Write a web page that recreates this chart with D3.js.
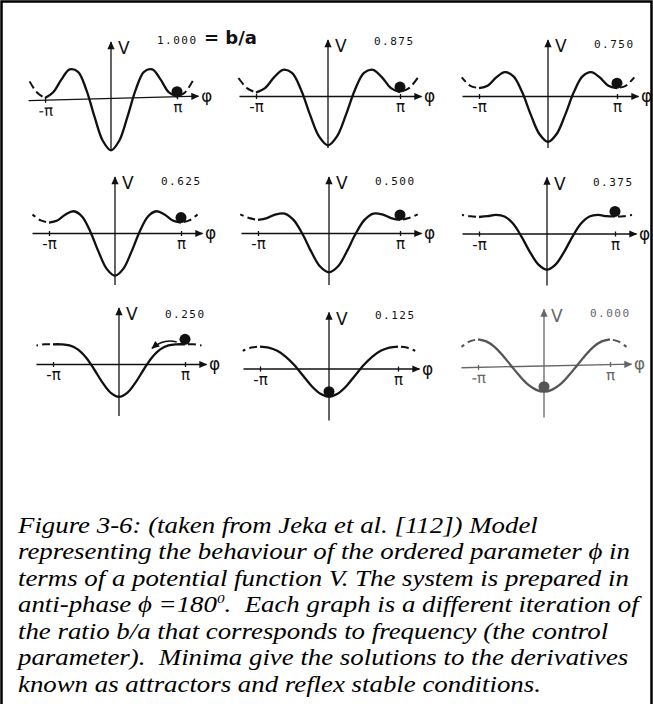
<!DOCTYPE html>
<html>
<head>
<meta charset="utf-8">
<script src="https://cdn.jsdelivr.net/npm/d3@7"></script>
<style>
  body { margin: 0; background: #fff; }
  svg { display: block; }
</style>
</head>
<body>
<script>
// b/a ratio shown on each small graph
var ratioLabels = ["1.000", "0.875", "0.750", "0.625", "0.500", "0.375", "0.250", "0.125", "0.000"];

// phi sample points, in units of pi
var phiSteps = [-1.25, -1.125, -1, -0.875, -0.75, -0.625, -0.5, -0.375, -0.25, -0.125, 0,
                0.125, 0.25, 0.375, 0.5, 0.625, 0.75, 0.875, 1, 1.125, 1.25];

// potential V at the phi samples
var v1000 = [0.71, 0.22, 0, 0.22, 0.71, 1.09, 1.00, 0.32, -0.71, -1.63, -2.00, -1.63, -0.71, 0.32, 1.00, 1.09, 0.71, 0.22, 0.05, 0.22, 0.71];
var v0875 = [0.71, 0.30, 0.13, 0.30, 0.71, 1.00, 0.88, 0.24, -0.71, -1.54, -1.88, -1.54, -0.71, 0.24, 0.88, 1.00, 0.71, 0.30, 0.15, 0.30, 0.71];
var v0750 = [0.71, 0.39, 0.30, 0.39, 0.71, 0.91, 0.75, 0.15, -0.71, -1.45, -1.75, -1.45, -0.71, 0.15, 0.75, 0.91, 0.71, 0.39, 0.30, 0.39, 0.71];
var v0625 = [0.71, 0.48, 0.40, 0.48, 0.71, 0.83, 0.63, 0.06, -0.71, -1.37, -1.63, -1.37, -0.71, 0.06, 0.63, 0.83, 0.71, 0.48, 0.40, 0.48, 0.71];
var v0500 = [0.71, 0.57, 0.50, 0.57, 0.71, 0.74, 0.50, -0.03, -0.71, -1.28, -1.50, -1.28, -0.71, -0.03, 0.50, 0.74, 0.71, 0.57, 0.50, 0.57, 0.71];
var v0375 = [0.71, 0.66, 0.63, 0.66, 0.71, 0.65, 0.38, -0.12, -0.71, -1.19, -1.38, -1.19, -0.71, -0.12, 0.38, 0.65, 0.71, 0.66, 0.65, 0.66, 0.71];
var v0250 = [0.71, 0.75, 0.75, 0.75, 0.71, 0.56, 0.25, -0.21, -0.71, -1.10, -1.25, -1.10, -0.71, -0.21, 0.25, 0.56, 0.71, 0.75, 0.75, 0.75, 0.71];
var v0125 = [0.71, 0.84, 0.88, 0.84, 0.71, 0.47, 0.13, -0.29, -0.71, -1.01, -1.13, -1.01, -0.71, -0.29, 0.13, 0.47, 0.71, 0.84, 0.88, 0.84, 0.71];
var v0000 = [0.71, 0.92, 1.00, 0.92, 0.71, 0.38, 0.00, -0.38, -0.71, -0.92, -1.00, -0.92, -0.71, -0.38, 0.00, 0.38, 0.71, 0.92, 1.00, 0.92, 0.71];

var potentials = [v1000, v0875, v0750, v0625, v0500, v0375, v0250, v0125, v0000];

// where the ball rests (phi in units of pi)
var ballPhi = [1, 1, 1, 1, 1, 1, 1, 0, 0];

// the curved "rolling" arrow on the b/a = 0.250 graph: [phi, V]
var rollArrow = [[0.875, 0.84], [0.68, 0.98], [0.5, 0.6]];

var tickLabels = ["-\u03c0", "\u03c0"];

var captionLines = [
  "Figure 3-6: (taken from Jeka et al. [112]) Model",
  "representing the behaviour of the ordered parameter \u03d5 in",
  "terms of a potential function V. The system is prepared in",
  "anti-phase \u03d5 =180|0|.  Each graph is a different iteration of",
  "the ratio b/a that corresponds to frequency (the control",
  "parameter).  Minima give the solutions to the derivatives",
  "known as attractors and reflex stable conditions."
];

// panel placement on the page
var centerX = [111, 328, 548, 115, 329, 547, 119, 329, 544];
var halfW   = [66, 72, 69, 66, 71, 68, 66, 69, 66];
var axisY   = [98, 96, 96, 233, 233, 233.5, 364, 368.5, 365.5];
var labelY  = [43.5, 44.5, 48, 184.5, 184.5, 185.5, 318, 319, 317];
var axisTilt = [-1.5, 0, 0, 0, 0, 0, 0, 0, -1.2];
var unitPx  = [26.2, 26.2, 26.2, 26.2, 26.2, 26.2, 26.2, 24.9, 26.2];

var w = 653, h = 704;

var svg = d3.select("body").append("svg")
    .attr("width", w)
    .attr("height", h);

// arrow heads
var defs = svg.append("defs");
["#111", "#666"].forEach(function(c, i) {
  defs.append("marker")
      .attr("id", "arr" + i)
      .attr("viewBox", "0 0 10 10")
      .attr("refX", 9).attr("refY", 5)
      .attr("markerUnits", "userSpaceOnUse")
      .attr("markerWidth", 10).attr("markerHeight", 8)
      .attr("orient", "auto")
      .append("path")
      .attr("d", "M0,0.5L10,5L0,9.5z")
      .attr("fill", c);
});

// frame around the figure
svg.append("path")
    .attr("d", "M1.5," + h + "V1.5H651.5V" + h)
    .attr("fill", "none")
    .attr("stroke", "#000")
    .attr("stroke-width", 2.5);

potentials.forEach(function(vals, i) {
  var cx = centerX[i], ay = axisY[i];
  var faded = (i === 8);
  var ink = faded ? "#555" : "#111";
  var axisInk = faded ? "#666" : "#111";
  var marker = faded ? "url(#arr1)" : "url(#arr0)";

  var x = d3.scaleLinear().domain([-1, 1]).range([cx - halfW[i], cx + halfW[i]]);
  var y = d3.scaleLinear().domain([0, 1]).range([ay, ay - unitPx[i]]);

  var g = svg.append("g");

  // phi axis
  var xAxisScale = x.copy().domain([-1 - 17 / halfW[i], 1 + 21 / halfW[i]])
      .range([x(-1) - 17, x(1) + 21]);
  var xAxis = d3.axisBottom(xAxisScale)
      .tickValues([-1, 1])
      .tickFormat(function(d) { return d < 0 ? tickLabels[0] : tickLabels[1]; })
      .tickSizeOuter(0)
      .tickSizeInner(3);

  var ax = g.append("g")
      .attr("transform", "rotate(" + axisTilt[i] + "," + cx + "," + ay + ") translate(0," + ay + ")")
      .call(xAxis);
  ax.select(".domain")
      .attr("stroke", axisInk)
      .attr("stroke-width", 1.3)
      .attr("marker-end", marker);
  ax.selectAll(".tick line")
      .attr("y1", -2).attr("y2", 3)
      .attr("stroke", axisInk)
      .attr("stroke-width", 1.3);
  ax.selectAll(".tick text")
      .attr("y", 16).attr("dy", 0)
      .attr("fill", axisInk)
      .style("font-family", "'DejaVu Sans', sans-serif")
      .style("font-size", "15px");

  ax.append("text")
      .attr("x", x(1) + 24)
      .attr("y", 6)
      .attr("text-anchor", "start")
      .attr("fill", axisInk)
      .style("font-family", "'DejaVu Sans', sans-serif")
      .style("font-size", "17px")
      .text("\u03c6");

  // V axis
  g.append("line")
      .attr("x1", cx).attr("y1", ay + 52)
      .attr("x2", cx).attr("y2", ay - 56)
      .attr("stroke", axisInk)
      .attr("stroke-width", 1.3)
      .attr("marker-end", marker);

  g.append("text")
      .attr("x", cx + 7)
      .attr("y", ay - 44)
      .attr("fill", axisInk)
      .style("font-family", "'DejaVu Sans', sans-serif")
      .style("font-size", "17px")
      .text("V");

  // ratio label
  var lab = g.append("text")
      .attr("x", cx + 46)
      .attr("y", labelY[i])
      .attr("fill", axisInk)
      .style("font-family", "'DejaVu Sans Mono', monospace")
      .style("font-size", "11px")
      .style("letter-spacing", "1.5px")
      .text(ratioLabels[i]);
  if (i === 0) {
    lab.append("tspan")
        .style("font-family", "'DejaVu Sans', sans-serif")
        .style("font-size", "18px")
        .style("font-weight", "bold")
        .style("letter-spacing", "0px")
        .text(" = b/a");
  }

  // potential curve: solid between -pi and pi, dashed outside
  var pts = phiSteps.map(function(p, k) { return [p, vals[k]]; });
  var line = d3.line()
      .x(function(d) { return x(d[0]); })
      .y(function(d) { return y(d[1]); })
      .curve(d3.curveCatmullRom.alpha(0.5));

  var inner = pts.filter(function(d) { return d[0] >= -1 && d[0] <= 1; });
  var left = pts.filter(function(d) { return d[0] <= -1; }).reverse();
  var right = pts.filter(function(d) { return d[0] >= 1; });

  g.append("path")
      .attr("d", line(inner))
      .attr("fill", "none")
      .attr("stroke", ink)
      .attr("stroke-width", 2.3);

  [left, right].forEach(function(seg) {
    g.append("path")
        .attr("d", line(seg))
        .attr("fill", "none")
        .attr("stroke", ink)
        .attr("stroke-width", 2)
        .attr("stroke-dasharray", "8,4")
        .attr("stroke-dashoffset", 9);
  });

  // ball
  var bi = phiSteps.indexOf(ballPhi[i]);
  g.append("circle")
      .attr("cx", x(ballPhi[i]))
      .attr("cy", y(vals[bi]) - 5)
      .attr("r", 5.5)
      .attr("fill", ink);

  // rolling arrow on the 0.250 graph
  if (i === 6) {
    var a = rollArrow;
    g.append("path")
        .attr("d", "M" + x(a[0][0]) + "," + y(a[0][1]) +
                   "Q" + x(a[1][0]) + "," + y(a[1][1]) +
                   " " + x(a[2][0]) + "," + y(a[2][1]))
        .attr("fill", "none")
        .attr("stroke", ink)
        .attr("stroke-width", 1.6)
        .attr("marker-end", "url(#arr0)");
  }
});

// caption (the scanned text is a little stretched sideways)
var stretch = 1.167;
var cap = svg.append("g")
    .attr("transform", "scale(" + stretch + ",1)")
    .append("text")
    .attr("xml:space", "preserve")
    .style("white-space", "pre")
    .style("font-family", "'Liberation Serif', 'Times New Roman', serif")
    .style("font-style", "italic")
    .style("font-size", "23px")
    .attr("fill", "#000");

captionLines.forEach(function(s, k) {
  var parts = s.split("|");
  cap.append("tspan")
      .attr("x", 18 / stretch)
      .attr("y", 533 + k * 26.5)
      .text(parts[0]);
  if (parts.length > 1) {
    cap.append("tspan")
        .attr("dy", -9)
        .style("font-size", "13px")
        .text(parts[1]);
    cap.append("tspan")
        .attr("dy", 9)
        .text(parts[2]);
  }
});
</script>
</body>
</html>
